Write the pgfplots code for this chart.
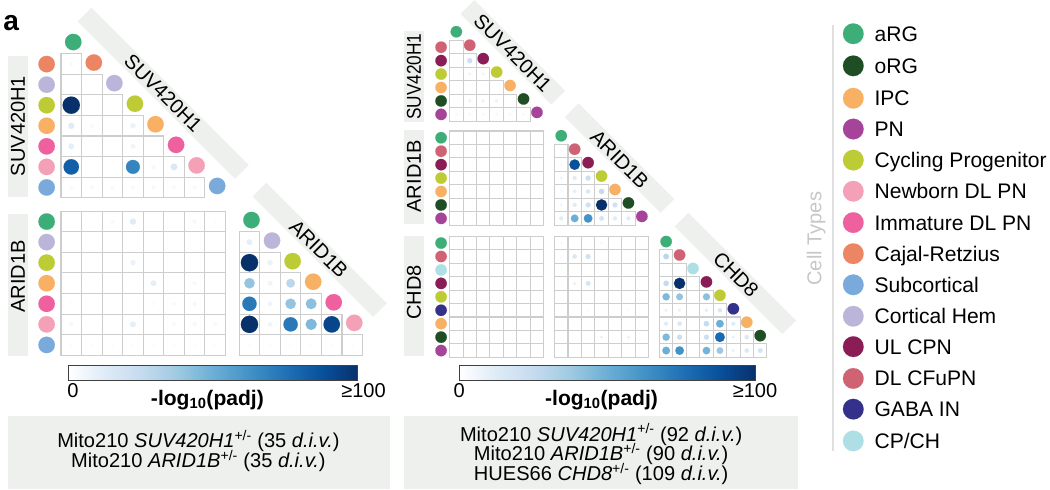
\documentclass[border=0pt]{standalone}
\usepackage{fontspec}
\setmainfont{Liberation Sans}
\usepackage{graphicx}
\usepackage{pgfplots}
\pgfplotsset{compat=1.18}

\definecolor{cARG}{HTML}{3DAE78}
\definecolor{cORG}{HTML}{1F4E24}
\definecolor{cIPC}{HTML}{F8B064}
\definecolor{cPN}{HTML}{A6449A}
\definecolor{cCYC}{HTML}{BDCB35}
\definecolor{cNEW}{HTML}{F4A1B8}
\definecolor{cIMM}{HTML}{EE609E}
\definecolor{cCR}{HTML}{EB8563}
\definecolor{cSUB}{HTML}{7AAADB}
\definecolor{cCH}{HTML}{BBB5D9}
\definecolor{cUL}{HTML}{8A1D56}
\definecolor{cDL}{HTML}{CF6373}
\definecolor{cGABA}{HTML}{34318A}
\definecolor{cCP}{HTML}{AEDFE4}
\definecolor{bandgray}{HTML}{EEF0EE}
\definecolor{cellgray}{HTML}{CDCDCD}
\definecolor{bA}{RGB}{222,235,247}
\definecolor{bB}{RGB}{198,219,239}
\definecolor{bC}{RGB}{158,202,225}
\definecolor{bD}{RGB}{107,174,214}
\definecolor{bE}{RGB}{66,146,198}
\definecolor{bF}{RGB}{33,113,181}
\definecolor{bG}{RGB}{8,81,156}
\definecolor{bH}{RGB}{8,48,107}

\pgfdeclarehorizontalshading{bluesh}{100bp}{color(0bp)=(white); color(25bp)=(white); color(31.25bp)=(bA); color(37.5bp)=(bB); color(43.75bp)=(bC); color(50bp)=(bD); color(56.25bp)=(bE); color(62.5bp)=(bF); color(68.75bp)=(bG); color(75bp)=(bH); color(100bp)=(bH)}

\newcommand\fs[1]{\fontsize{#1}{#1}\selectfont}
\tikzset{cell/.style={draw=cellgray, line width=1.1pt}}
\newcommand\rectcells[5]{\foreach \r in {1,...,#4}{\foreach \c in {1,...,#5}{\draw[cell] ({#1+(\c-1)*#3},{#2+(\r-1)*#3}) rectangle ++(#3,#3);}}}
\newcommand\tricells[4]{\foreach \r in {1,...,#4}{\foreach \c in {1,...,\r}{\draw[cell] ({#1+(\c-1)*#3},{#2+\r*#3}) rectangle ++(#3,#3);}}}

\pgfplotsset{
  colormap={blues}{rgb255=(255,255,255) rgb255=(222,235,247) rgb255=(198,219,239) rgb255=(158,202,225) rgb255=(107,174,214) rgb255=(66,146,198) rgb255=(33,113,181) rgb255=(8,81,156) rgb255=(8,48,107)},
  catdot/.style={scatter, only marks, mark=*,
    visualization depends on={\thisrow{r} \as \rr},
    scatter/use mapped color={draw=#1, fill=#1},
    mark options={line width=0.1pt},
    scatter/@pre marker code/.append style={/tikz/mark size=\rr}},
  valdot/.style={scatter, only marks, mark=*, point meta=explicit,
    visualization depends on={#1*(0.07+0.35*(\thisrow{v}/100)^0.7) \as \rr},
    scatter/use mapped color={draw=mapped color, fill=mapped color},
    mark options={line width=0.1pt},
    scatter/@pre marker code/.append style={/tikz/mark size=\rr}},
}

\begin{document}
\begin{tikzpicture}
\begin{scope}[x=1pt, y=-1pt, shift={(0pt,499pt)}]
% vertical bands
\fill[bandgray] (12.3,60.7) rectangle (31.7,201.7);
\fill[bandgray] (12.3,219) rectangle (31.7,360);
\fill[bandgray] (407.3,36.7) rectangle (426.7,126.7);
\fill[bandgray] (407.3,135) rectangle (426.7,229);
\fill[bandgray] (407.3,240.7) rectangle (426.7,360);
\node[rotate=90, font=\fs{20}] at (22,131) {SUV420H1};
\node[rotate=90, font=\fs{20}] at (22,281) {ARID1B};
\node[rotate=90, font=\fs{20}] at (417,81.7) {\scalebox{0.86}[1]{SUV420H1}};
\node[rotate=90, font=\fs{20}] at (417,181) {ARID1B};
\node[rotate=90, font=\fs{20}] at (417,297) {CHD8};
% diagonal bands
\node[fill=bandgray, rotate=-45, minimum width=222pt, minimum height=19.5pt, inner sep=0pt] at (167,98.3) {};
\node[fill=bandgray, rotate=-45, minimum width=170pt, minimum height=19.5pt, inner sep=0pt] at (323,254.5) {};
\node[fill=bandgray, rotate=-45, minimum width=128pt, minimum height=19.5pt, inner sep=0pt] at (515.5,57.5) {};
\node[fill=bandgray, rotate=-45, minimum width=135pt, minimum height=19.5pt, inner sep=0pt] at (622,163) {};
\node[fill=bandgray, rotate=-45, minimum width=152pt, minimum height=19.5pt, inner sep=0pt] at (737.4,278) {};
\node[rotate=-45, font=\fs{20}, inner sep=0pt] at (167,98.3) {SUV420H1};
\node[rotate=-45, font=\fs{20}, inner sep=0pt] at (322,253.5) {ARID1B};
\node[rotate=-45, font=\fs{20}, inner sep=0pt] at (515.5,58) {SUV420H1};
\node[rotate=-45, font=\fs{20}, inner sep=0pt] at (622,164) {ARID1B};
\node[rotate=-45, font=\fs{20}, inner sep=0pt] at (738,279) {CHD8};
% grids
\tricells{65}{38.5}{20.5}{7}
\rectcells{65}{216}{20.5}{7}{8}
\tricells{242.7}{216}{20.5}{6}
\tricells{452.5}{32.3}{13.4}{6}
\rectcells{452.5}{136}{13.4}{7}{7}
\tricells{557.1}{136}{13.4}{6}
\rectcells{452.5}{241}{13.4}{9}{7}
\rectcells{557.1}{241}{13.4}{9}{7}
\tricells{661.7}{241}{13.4}{8}
% colorbars
\shade[shading=bluesh] (72.7,370) rectangle (361,384.3);
\draw[draw=black!75, line width=1pt] (72.7,370) rectangle (361,384.3);
\shade[shading=bluesh] (462.3,370) rectangle (757.7,385);
\draw[draw=black!75, line width=1pt] (462.3,370) rectangle (757.7,385);
\node[anchor=base, font=\fs{20}] at (77,401.7) {0};
\node[anchor=base, font=\fs{20}] at (366.7,401.7) {≥100};
\node[anchor=base, font=\fs{21}\bfseries] at (211,410) {-log\textsubscript{10}(padj)};
\node[anchor=base, font=\fs{20}] at (462,401.7) {0};
\node[anchor=base, font=\fs{20}] at (757,401.7) {≥100};
\node[anchor=base, font=\fs{21}\bfseries] at (604,410) {-log\textsubscript{10}(padj)};
% bottom boxes
\fill[bandgray] (11.7,420) rectangle (392.7,493.3);
\fill[bandgray] (407.3,420) rectangle (800,493.3);
\node[anchor=base, font=\fs{20}] at (202,451.7) {Mito210 \textit{SUV420H1}\textsuperscript{+/-} (35 \textit{d.i.v.})};
\node[anchor=base, font=\fs{20}] at (202,471.7) {Mito210 \textit{ARID1B}\textsuperscript{+/-} (35 \textit{d.i.v.})};
\node[anchor=base, font=\fs{20}] at (603.6,445.5) {Mito210 \textit{SUV420H1}\textsuperscript{+/-} (92 \textit{d.i.v.})};
\node[anchor=base, font=\fs{20}] at (603.6,465) {Mito210 \textit{ARID1B}\textsuperscript{+/-} (90 \textit{d.i.v.})};
\node[anchor=base, font=\fs{20}] at (603.6,484.5) {HUES66 \textit{CHD8}\textsuperscript{+/-} (109 \textit{d.i.v.})};
% panel label
\node[anchor=base west, font=\fs{28}\bfseries] at (4,36) {a};
% legend
\draw[draw=black!12, line width=2pt] (835,30) -- (835,455);
\node[rotate=90, font=\fs{20}, text=black!22] at (818,243.4) {Cell Types};
\node[anchor=base west, font=\fs{21}] at (872.7,46.5) {aRG};
\node[anchor=base west, font=\fs{21}] at (872.7,78.5) {oRG};
\node[anchor=base west, font=\fs{21}] at (872.7,110.8) {IPC};
\node[anchor=base west, font=\fs{21}] at (872.7,141.5) {PN};
\node[anchor=base west, font=\fs{21}] at (872.7,172.5) {Cycling Progenitor};
\node[anchor=base west, font=\fs{21}] at (872.7,203.5) {Newborn DL PN};
\node[anchor=base west, font=\fs{21}] at (872.7,234.8) {Immature DL PN};
\node[anchor=base west, font=\fs{21}] at (872.7,265.8) {Cajal-Retzius};
\node[anchor=base west, font=\fs{21}] at (872.7,296.8) {Subcortical};
\node[anchor=base west, font=\fs{21}] at (872.7,328.2) {Cortical Hem};
\node[anchor=base west, font=\fs{21}] at (872.7,358.5) {UL CPN};
\node[anchor=base west, font=\fs{21}] at (872.7,390.2) {DL CFuPN};
\node[anchor=base west, font=\fs{21}] at (872.7,420.8) {GABA IN};
\node[anchor=base west, font=\fs{21}] at (872.7,452.5) {CP/CH};
\end{scope}

\begin{axis}[at={(0pt,0pt)}, anchor=south west, width=1050pt, height=499pt, scale only axis,
  xmin=0, xmax=1050, ymin=0, ymax=499, y dir=reverse, hide axis, clip=false,
  colormap name=blues, point meta min=0, point meta max=100]

% ---- value dots: left panel ----
\addplot[valdot=20.5] table[row sep=\\, x expr={65+(\thisrow{c}+0.5)*20.5}, y expr={38.5+(\thisrow{r}+0.5)*20.5}, meta=v] {
c r v\\ 0 1 3\\ 0 3 100\\ 0 4 12\\ 1 4 3\\ 3 4 8\\ 0 5 10\\ 3 5 6\\ 0 6 82\\ 3 6 68\\ 4 6 4\\ 5 6 15\\
0 7 3\\ 1 7 3\\ 2 7 3\\ 3 7 3\\ 4 7 3\\ 5 7 3\\ 6 7 3\\
};
\addplot[valdot=20.5] table[row sep=\\, x expr={65+(\thisrow{c}+0.5)*20.5}, y expr={216+(\thisrow{r}+0.5)*20.5}, meta=v] {
c r v\\ 2 0 3\\ 3 0 12\\ 6 0 4\\ 7 0 2\\ 3 2 8\\ 4 3 10\\ 6 3 3\\ 0 4 2\\ 4 4 2\\ 5 4 3\\ 6 4 4\\
0 5 4\\ 3 5 10\\ 5 5 3\\ 6 5 4\\ 7 5 3\\ 0 6 2\\ 1 6 2\\ 2 6 2\\ 3 6 2\\ 4 6 2\\ 5 6 2\\ 6 6 2\\ 7 6 2\\
};
\addplot[valdot=20.5] table[row sep=\\, x expr={242.7+(\thisrow{c}+0.5)*20.5}, y expr={216+(\thisrow{r}+0.5)*20.5}, meta=v] {
c r v\\ 0 1 10\\ 0 2 100\\ 1 2 8\\ 0 3 40\\ 1 3 6\\ 2 3 28\\ 0 4 72\\ 1 4 6\\ 2 4 40\\ 3 4 42\\
0 5 100\\ 1 5 6\\ 2 5 72\\ 3 5 45\\ 4 5 92\\ 0 6 2\\ 1 6 2\\ 2 6 2\\ 3 6 2\\ 4 6 2\\ 5 6 2\\
};
% ---- value dots: right panel ----
\addplot[valdot=13.4] table[row sep=\\, x expr={452.5+(\thisrow{c}+0.5)*13.4}, y expr={32.3+(\thisrow{r}+0.5)*13.4}, meta=v] {
c r v\\ 1 2 22\\ 1 3 6\\ 2 3 6\\ 0 4 2\\ 1 5 8\\ 2 5 8\\ 3 5 8\\ 0 6 4\\ 1 6 4\\ 2 6 4\\ 3 6 4\\ 4 6 4\\ 5 6 4\\
};
\addplot[valdot=13.4] table[row sep=\\, x expr={452.5+(\thisrow{c}+0.5)*13.4}, y expr={136+(\thisrow{r}+0.5)*13.4}, meta=v] {
c r v\\ 1 0 2\\ 3 2 2\\ 2 3 2\\ 4 4 2\\ 1 6 2\\ 3 6 2\\
};
\addplot[valdot=13.4] table[row sep=\\, x expr={557.1+(\thisrow{c}+0.5)*13.4}, y expr={136+(\thisrow{r}+0.5)*13.4}, meta=v] {
c r v\\ 0 1 3\\ 0 2 3\\ 1 2 88\\ 0 3 6\\ 1 3 12\\ 2 3 22\\ 0 4 4\\ 1 4 10\\ 2 4 15\\ 3 4 25\\
0 5 6\\ 1 5 12\\ 2 5 20\\ 3 5 100\\ 4 5 20\\ 0 6 12\\ 1 6 50\\ 2 6 62\\ 3 6 18\\ 4 6 12\\ 5 6 12\\
};
\addplot[valdot=13.4] table[row sep=\\, x expr={452.5+(\thisrow{c}+0.5)*13.4}, y expr={241+(\thisrow{r}+0.5)*13.4}, meta=v] {
c r v\\ 1 3 2\\ 2 3 2\\ 4 5 2\\
};
\addplot[valdot=13.4] table[row sep=\\, x expr={557.1+(\thisrow{c}+0.5)*13.4}, y expr={241+(\thisrow{r}+0.5)*13.4}, meta=v] {
c r v\\ 0 0 3\\ 3 0 4\\ 0 1 3\\ 1 1 15\\ 2 1 20\\ 0 2 2\\ 1 3 8\\ 2 3 18\\ 2 5 3\\ 5 5 3\\ 3 7 8\\ 5 7 8\\
};
\addplot[valdot=13.4] table[row sep=\\, x expr={661.7+(\thisrow{c}+0.5)*13.4}, y expr={241+(\thisrow{r}+0.5)*13.4}, meta=v] {
c r v\\ 0 1 28\\ 0 3 25\\ 1 3 100\\ 0 4 45\\ 1 4 40\\ 3 4 42\\ 0 5 8\\ 1 5 8\\ 3 5 10\\ 4 5 15\\
0 6 12\\ 1 6 15\\ 3 6 25\\ 4 6 50\\ 5 6 12\\ 0 7 45\\ 1 7 22\\ 3 7 22\\ 4 7 78\\ 5 7 8\\ 6 7 15\\
0 8 50\\ 1 8 62\\ 3 8 48\\ 4 8 38\\ 5 8 8\\ 6 8 15\\ 7 8 18\\
};

% ---- category dots ----
\addplot[catdot=cARG] table[row sep=\\] {x y r\\ 855 39 10.3\\ 50.7 226.25 8.2\\ 77.25 47.25 8.2\\ 254.95 224.75 8.2\\
444 142.7 5.7\\ 444 247.7 5.7\\ 459.2 37 5.7\\ 563.8 140.7 5.7\\ 668.4 246.2 5.7\\};
\addplot[catdot=cORG] table[row sep=\\] {x y r\\ 855 71 10.3\\ 444 106.0 5.7\\ 444 209.7 5.7\\ 444 341.5 5.7\\
526.2 104 5.7\\ 630.8 207.7 5.7\\ 762.2 340 5.7\\};
\addplot[catdot=cIPC] table[row sep=\\] {x y r\\ 855 103.3 10.3\\ 50.7 130.75 8.2\\ 50.7 287.75 8.2\\ 159.25 129.25 8.2\\ 316.45 286.25 8.2\\
444 92.6 5.7\\ 444 196.3 5.7\\ 444 328.1 5.7\\ 512.8 90.6 5.7\\ 617.4 194.3 5.7\\ 748.8 326.6 5.7\\};
\addplot[catdot=cPN] table[row sep=\\] {x y r\\ 855 134 10.3\\ 444 119.4 5.7\\ 444 223.1 5.7\\ 444 354.9 5.7\\
539.6 117.4 5.7\\ 644.2 221.1 5.7\\};
\addplot[catdot=cCYC] table[row sep=\\] {x y r\\ 855 165 10.3\\ 50.7 110.25 8.2\\ 50.7 267.25 8.2\\ 138.75 108.75 8.2\\ 295.95 265.75 8.2\\
444 79.2 5.7\\ 444 182.9 5.7\\ 444 301.3 5.7\\ 499.4 77.2 5.7\\ 604 180.9 5.7\\ 722 299.8 5.7\\};
\addplot[catdot=cNEW] table[row sep=\\] {x y r\\ 855 196 10.3\\ 50.7 171.75 8.2\\ 50.7 328.75 8.2\\ 200.25 170.25 8.2\\ 357.45 327.25 8.2\\};
\addplot[catdot=cIMM] table[row sep=\\] {x y r\\ 855 227.3 10.3\\ 50.7 151.25 8.2\\ 50.7 308.25 8.2\\ 179.75 149.75 8.2\\ 336.95 306.75 8.2\\};
\addplot[catdot=cCR] table[row sep=\\] {x y r\\ 855 258.3 10.3\\ 50.7 69.25 8.2\\ 97.75 67.75 8.2\\};
\addplot[catdot=cSUB] table[row sep=\\] {x y r\\ 855 289.3 10.3\\ 50.7 192.25 8.2\\ 50.7 349.25 8.2\\ 220.75 190.75 8.2\\};
\addplot[catdot=cCH] table[row sep=\\] {x y r\\ 855 320.7 10.3\\ 50.7 89.75 8.2\\ 50.7 246.75 8.2\\ 118.25 88.25 8.2\\ 275.45 245.25 8.2\\};
\addplot[catdot=cUL] table[row sep=\\] {x y r\\ 855 351 10.3\\ 444 65.8 5.7\\ 444 169.5 5.7\\ 444 287.9 5.7\\
486 63.8 5.7\\ 590.6 167.5 5.7\\ 708.6 286.4 5.7\\};
\addplot[catdot=cDL] table[row sep=\\] {x y r\\ 855 382.7 10.3\\ 444 52.4 5.7\\ 444 156.1 5.7\\ 444 261.1 5.7\\
472.6 50.4 5.7\\ 577.2 154.1 5.7\\ 681.8 259.6 5.7\\};
\addplot[catdot=cGABA] table[row sep=\\] {x y r\\ 855 413.3 10.3\\ 444 314.7 5.7\\ 735.4 313.2 5.7\\};
\addplot[catdot=cCP] table[row sep=\\] {x y r\\ 855 445 10.3\\ 444 274.5 5.7\\ 695.2 273 5.7\\};
\end{axis}
\end{tikzpicture}
\end{document}
